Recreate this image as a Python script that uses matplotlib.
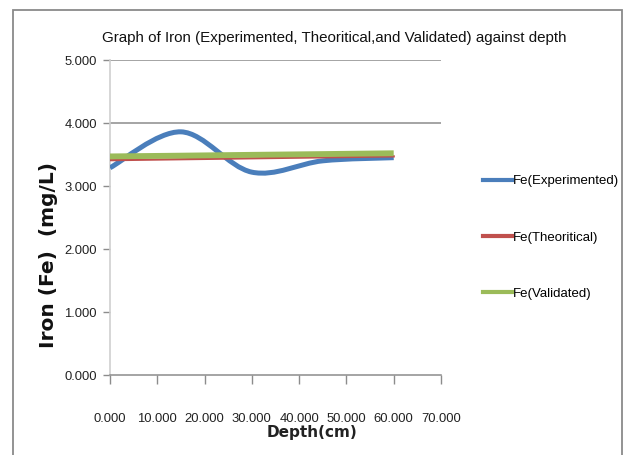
import matplotlib
matplotlib.use("Agg")
import matplotlib.pyplot as plt
from matplotlib.path import Path
from matplotlib.patches import PathPatch, Rectangle
from matplotlib.lines import Line2D

# data
depth = [0.0, 15.0, 30.0, 45.0, 60.0]
fe_experimented = [3.29, 3.86, 3.22, 3.40, 3.45]
fe_theoritical = [3.41, 3.425, 3.44, 3.455, 3.47]
fe_validated = [3.47, 3.482, 3.495, 3.507, 3.52]
x_ticks = [0, 10, 20, 30, 40, 50, 60, 70]
y_ticks = [0, 1, 2, 3, 4, 5]

narrow = ["Liberation Sans", "DejaVu Sans"]
c_blue, c_red, c_green = "#4a7ebb", "#c0504d", "#9bbb59"


def smooth_path(xs, ys):
    # excel-style smoothed line: cubic bezier through each point
    pts = list(zip(xs, ys))
    n = len(pts)
    verts = [pts[0]]
    codes = [Path.MOVETO]
    for i in range(n - 1):
        p0 = pts[max(i - 1, 0)]
        p1 = pts[i]
        p2 = pts[i + 1]
        p3 = pts[min(i + 2, n - 1)]
        c1 = (p1[0] + (p2[0] - p0[0]) / 6, p1[1] + (p2[1] - p0[1]) / 6)
        c2 = (p2[0] - (p3[0] - p1[0]) / 6, p2[1] - (p3[1] - p1[1]) / 6)
        verts += [c1, c2, p2]
        codes += [Path.CURVE4] * 3
    return Path(verts, codes)


fig = plt.figure(figsize=(6.3, 4.55), dpi=100)
ax = fig.add_axes([0.1746, 0.1758, 0.5254, 0.6923])

ax.hlines([4, 5], 0, 70, color="#8c8c8c", lw=1.1, zorder=1)

ax.add_patch(PathPatch(smooth_path(depth, fe_experimented), fill=False,
                       ec=c_blue, lw=3.6, capstyle="butt", zorder=3))
ax.plot(depth, fe_theoritical, color=c_red, lw=1.6, zorder=4)
ax.plot(depth, fe_validated, color=c_green, lw=4.2, solid_capstyle="butt", zorder=5)

ax.set_xlim(0, 70)
ax.set_ylim(0, 5)
ax.set_xticks(x_ticks)
ax.set_yticks(y_ticks)
ax.set_xticklabels(["%.3f" % v for v in x_ticks], family=narrow, fontsize=9.4, color="#222222")
ax.set_yticklabels(["%.3f" % v for v in y_ticks], family=narrow, fontsize=9.4, color="#222222")
ax.tick_params(axis="x", direction="out", length=6.5, width=1, color="#8c8c8c", pad=21)
ax.tick_params(axis="y", direction="out", length=5, width=1, color="#8c8c8c", pad=4.5)

for s in ["top", "right"]:
    ax.spines[s].set_visible(False)
ax.spines["left"].set_color("#cfcfcf")
ax.spines["left"].set_linewidth(1.2)
ax.spines["bottom"].set_color("#8c8c8c")
ax.spines["bottom"].set_linewidth(1.1)

title = fig.text(334 / 630, 1 - 38 / 455,
                 "Graph of Iron (Experimented, Theoritical,and Validated) against depth",
                 family=narrow, fontsize=10, ha="center", va="center", color="#111111")
fig.text(312 / 630, 1 - 433 / 455, "Depth(cm)", fontsize=11, fontweight="bold",
         ha="center", va="center", color="#222222")
fig.text(48 / 630, 1 - 255 / 455, "Iron (Fe)  (mg/L)", fontsize=14.5, fontweight="bold",
         rotation=90, ha="center", va="center", color="#111111")

# fit the title to the width it has in the reference
fig.canvas.draw()
w = title.get_window_extent().width
title.set_fontsize(title.get_fontsize() * 468 / w)

handles = [Line2D([], [], color=c_blue, lw=3),
           Line2D([], [], color=c_red, lw=3),
           Line2D([], [], color=c_green, lw=3)]
labels = ["Fe(Experimented)", "Fe(Theoritical)", "Fe(Validated)"]
fig.legend(handles, labels, loc="upper left", bbox_to_anchor=(483 / 630, 1 - 175 / 455),
           frameon=False, prop={"family": narrow, "size": 9.5}, labelspacing=3.35,
           handlelength=2.2, handletextpad=0.1, borderaxespad=0, borderpad=0)

fig.patches.append(Rectangle((13 / 630, -0.05), 609 / 630, 1.05 - 10 / 455,
                             transform=fig.transFigure, fill=False,
                             ec="#8a8a8a", lw=1.3))

fig.savefig("out.png", dpi=100)
